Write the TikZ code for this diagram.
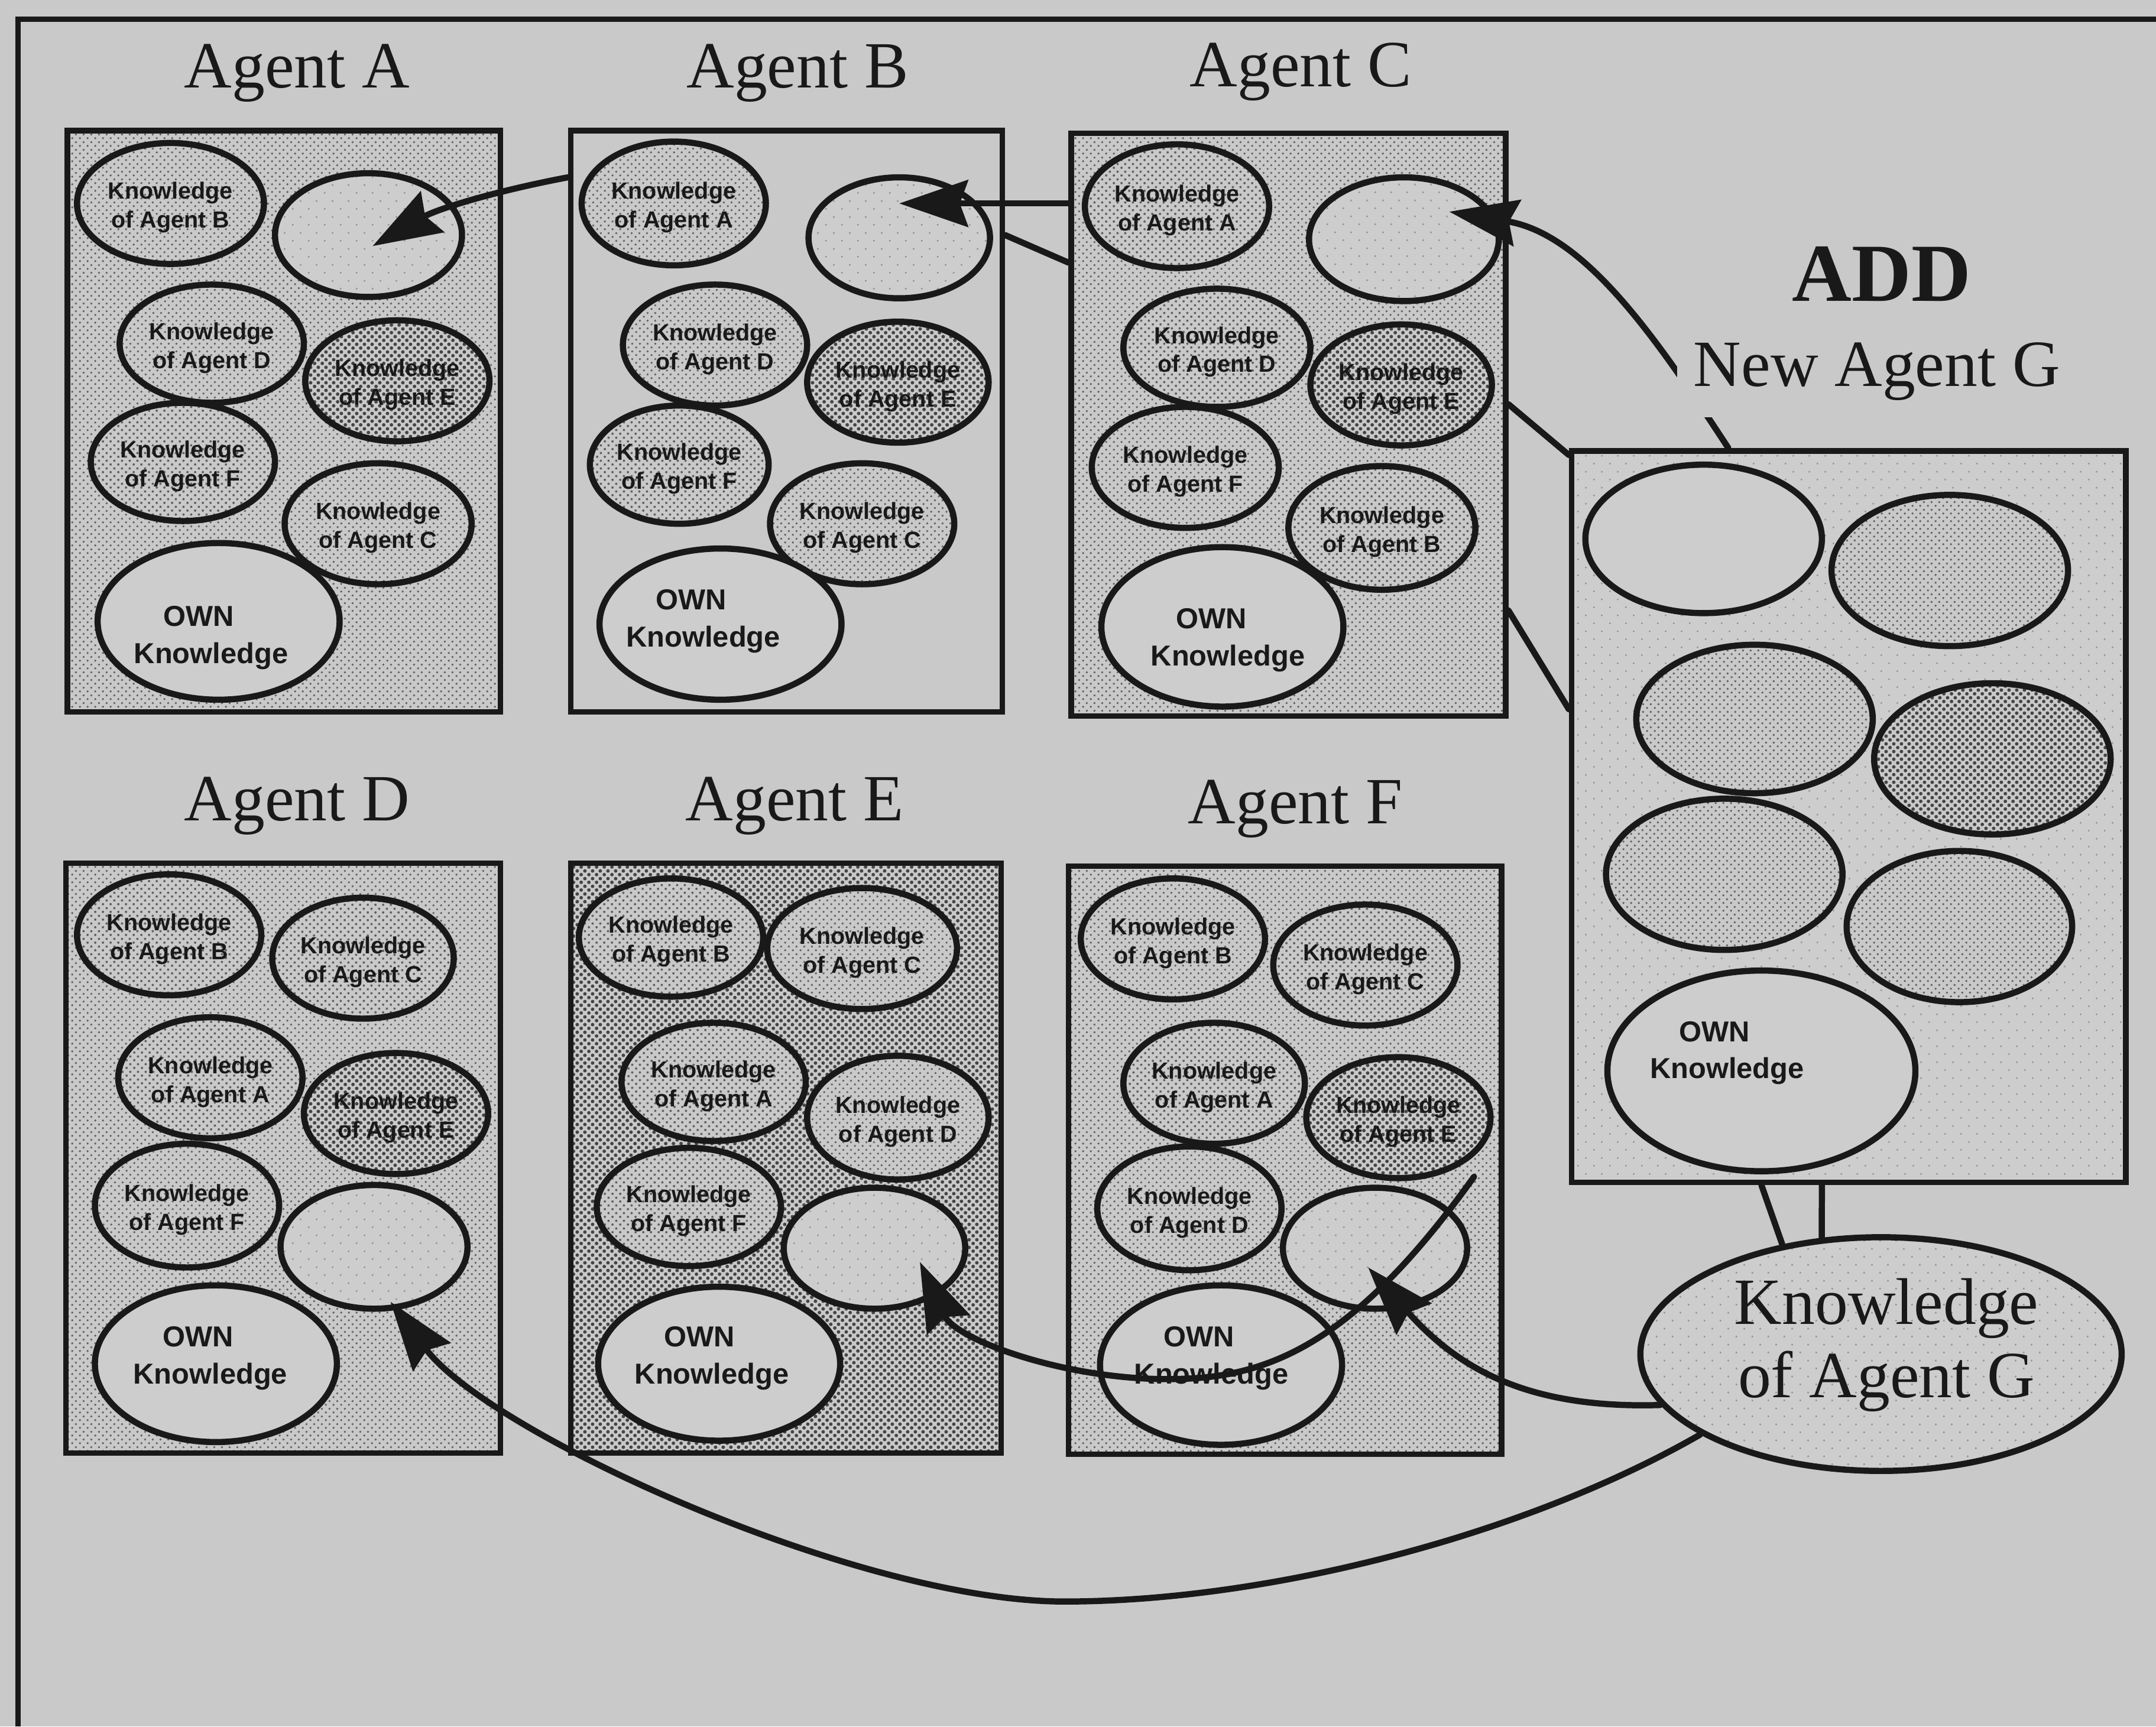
\documentclass[tikz,border=0pt]{standalone}
\usepackage{fontspec}
\setmainfont{Liberation Serif}
\newfontfamily\ksans{Liberation Sans}
\usetikzlibrary{shapes.geometric,arrows.meta,patterns,calc}

\definecolor{paper}{gray}{0.79}
\definecolor{lite}{gray}{0.805}
\definecolor{ink}{gray}{0.1}
\definecolor{dotmed}{gray}{0.38}
\definecolor{dotdark}{gray}{0.27}
\definecolor{dotfaint}{gray}{0.58}

% halftone-like dot screens
\pgfdeclarepatternformonly{meddots}{\pgfqpoint{0pt}{0pt}}{\pgfqpoint{5.7pt}{5.7pt}}{\pgfqpoint{5.7pt}{5.7pt}}{%
  \pgfpathcircle{\pgfqpoint{1.425pt}{1.425pt}}{0.9pt}%
  \pgfpathcircle{\pgfqpoint{4.275pt}{4.275pt}}{0.9pt}%
  \pgfusepath{fill}}
\pgfdeclarepatternformonly{darkdots}{\pgfqpoint{0pt}{0pt}}{\pgfqpoint{5.7pt}{5.7pt}}{\pgfqpoint{5.7pt}{5.7pt}}{%
  \pgfpathcircle{\pgfqpoint{1.425pt}{1.425pt}}{1.35pt}%
  \pgfpathcircle{\pgfqpoint{4.275pt}{4.275pt}}{1.35pt}%
  \pgfusepath{fill}}
\pgfdeclarepatternformonly{sparsedots}{\pgfqpoint{0pt}{0pt}}{\pgfqpoint{11.4pt}{11.4pt}}{\pgfqpoint{11.4pt}{11.4pt}}{%
  \pgfpathcircle{\pgfqpoint{2pt}{3pt}}{0.75pt}%
  \pgfpathcircle{\pgfqpoint{8pt}{9pt}}{0.75pt}%
  \pgfusepath{fill}}

% knowledge ellipse: name, x, y, width, height, fill style, text
\newcommand\kel[7]{%
  \node[kbase,#6,minimum width=#4pt,minimum height=#5pt,label={[ktext]center:{#7}}] (#1) at (#2,#3) {};}

\begin{document}
\begin{tikzpicture}[x=1pt,y=-1pt,
  medfill/.style={preaction={fill=paper}, pattern=meddots, pattern color=dotmed},
  darkfill/.style={preaction={fill=paper}, pattern=darkdots, pattern color=dotdark},
  faintfill/.style={preaction={fill=lite}, pattern=sparsedots, pattern color=dotfaint},
  plainfill/.style={fill=lite},
  agentbox/.style={draw=ink, line width=4pt, inner sep=0, rectangle},
  kbase/.style={ellipse, draw=ink, line width=4.5pt, inner sep=0},
  ktext/.style={font=\ksans\bfseries\fontsize{17}{21}\selectfont, align=center, inner sep=0, text=ink, yshift=-3pt},
  otext/.style={font=\ksans\bfseries\fontsize{21}{27}\selectfont, align=center, inner sep=0, text=ink},
  title/.style={font=\fontsize{48}{54}\selectfont, text=ink, inner sep=0, anchor=base},
  conn/.style={draw=ink, line width=4.5pt, line cap=round},
  arr/.style={conn, -{Stealth[length=50pt,width=34pt,inset=6pt]}}
]
\fill[paper] (0,0) rectangle (1568,1256);
\useasboundingbox (0,0) rectangle (1568,1256);

% page frame
\draw[ink, line width=4pt] (13,1256) -- (13,14) -- (1568,14);

% titles
\node[title] (tA) at (216,64) {Agent A};
\node[title] (tB) at (580,64) {Agent B};
\node[title] (tC) at (946,63) {Agent C};
\node[title] (tD) at (216,597) {Agent D};
\node[title] (tE) at (578,597) {Agent E};
\node[title] (tF) at (942,599) {Agent F};
\node[title, font=\bfseries\fontsize{60}{66}\selectfont] (tAdd) at (1368.5,219) {ADD};

% agent boxes
\node[agentbox, medfill, minimum width=315pt, minimum height=423pt] (boxA) at (206.5,306.5) {};
\node[agentbox, fill=paper, minimum width=314pt, minimum height=423pt] (boxB) at (572,306.5) {};
\node[agentbox, medfill, minimum width=316pt, minimum height=424pt] (boxC) at (937,309) {};
\node[agentbox, medfill, minimum width=316pt, minimum height=429pt] (boxD) at (206,842.5) {};
\node[agentbox, darkfill, minimum width=313pt, minimum height=429pt] (boxE) at (571.5,842.5) {};
\node[agentbox, medfill, minimum width=315pt, minimum height=428pt] (boxF) at (934.5,844) {};
\node[agentbox, faintfill, minimum width=403pt, minimum height=532pt] (boxG) at (1344.5,594) {};

% Agent A
\kel{aB}{124}{148}{136}{88}{medfill}{Knowledge\\of Agent B}
\kel{aX}{268}{171}{136}{90}{faintfill}{}
\kel{aD}{154}{250}{134}{86}{medfill}{Knowledge\\of Agent D}
\kel{aE}{289}{277}{134}{88}{darkfill}{Knowledge\\of Agent E}
\kel{aF}{133}{336}{134}{86}{medfill}{Knowledge\\of Agent F}
\kel{aC}{275}{381}{136}{88}{medfill}{Knowledge\\of Agent C}
\kel{aO}{159}{452}{176}{114}{plainfill}{}
\node[otext] (aOt) at (153.5,464) {OWN\hspace*{18pt}\\Knowledge};

% Agent B
\kel{bA}{490}{148}{134}{90}{medfill}{Knowledge\\of Agent A}
\kel{bX}{654}{173}{132}{88}{faintfill}{}
\kel{bD}{520}{251}{134}{88}{medfill}{Knowledge\\of Agent D}
\kel{bE}{653}{278}{132}{88}{darkfill}{Knowledge\\of Agent E}
\kel{bF}{494}{338}{130}{86}{medfill}{Knowledge\\of Agent F}
\kel{bC}{627}{381}{134}{88}{medfill}{Knowledge\\of Agent C}
\kel{bO}{524}{454}{176}{110}{plainfill}{}
\node[otext] (bOt) at (511.5,452) {OWN\hspace*{18pt}\\Knowledge};

% Agent C
\kel{cA}{856}{150}{134}{90}{medfill}{Knowledge\\of Agent A}
\kel{cX}{1021}{174}{138}{90}{faintfill}{}
\kel{cD}{885}{253}{136}{86}{medfill}{Knowledge\\of Agent D}
\kel{cE}{1019}{280}{132}{88}{darkfill}{Knowledge\\of Agent E}
\kel{cF}{862}{340}{136}{88}{medfill}{Knowledge\\of Agent F}
\kel{cB}{1005}{384}{136}{90}{medfill}{Knowledge\\of Agent B}
\kel{cO}{889}{456}{176}{116}{plainfill}{}
\node[otext] (cOt) at (893,465.7) {OWN\hspace*{24pt}\\Knowledge};

% Agent D
\kel{dB}{123}{680}{134}{88}{medfill}{Knowledge\\of Agent B}
\kel{dC}{264}{697}{132}{88}{medfill}{Knowledge\\of Agent C}
\kel{dA}{153}{784}{134}{88}{medfill}{Knowledge\\of Agent A}
\kel{dE}{288}{810}{134}{88}{darkfill}{Knowledge\\of Agent E}
\kel{dF}{136}{877}{134}{90}{medfill}{Knowledge\\of Agent F}
\kel{dX}{272}{907}{136}{90}{faintfill}{}
\kel{dO}{157}{992}{176}{114}{plainfill}{}
\node[otext] (dOt) at (153,988) {OWN\hspace*{18pt}\\Knowledge};

% Agent E
\kel{eB}{488}{682}{134}{86}{medfill}{Knowledge\\of Agent B}
\kel{eC}{627}{690}{138}{88}{medfill}{Knowledge\\of Agent C}
\kel{eA}{519}{787}{134}{86}{medfill}{Knowledge\\of Agent A}
\kel{eD}{653}{813}{132}{90}{medfill}{Knowledge\\of Agent D}
\kel{eF}{501}{878}{134}{86}{medfill}{Knowledge\\of Agent F}
\kel{eX}{636}{908}{132}{88}{faintfill}{}
\kel{eO}{523}{992}{176}{112}{plainfill}{}
\node[otext] (eOt) at (517.7,988) {OWN\hspace*{18pt}\\Knowledge};

% Agent F
\kel{fB}{853}{683}{134}{88}{medfill}{Knowledge\\of Agent B}
\kel{fC}{993}{702}{134}{88}{medfill}{Knowledge\\of Agent C}
\kel{fA}{883}{788}{132}{88}{medfill}{Knowledge\\of Agent A}
\kel{fE}{1017}{813}{134}{88}{darkfill}{Knowledge\\of Agent E}
\kel{fD}{865}{879}{134}{90}{medfill}{Knowledge\\of Agent D}
\kel{fX}{1000}{908}{134}{88}{faintfill}{}
\kel{fO}{888}{993}{176}{116}{plainfill}{}
\node[otext] (fOt) at (881,988) {OWN\hspace*{18pt}\\Knowledge};

% new Agent G
\kel{g1}{1239}{392}{172}{108}{plainfill}{}
\kel{g2}{1418}{415}{172}{110}{medfill}{}
\kel{g3}{1276}{523}{172}{108}{medfill}{}
\kel{g4}{1449}{552}{172}{110}{darkfill}{}
\kel{g5}{1254}{636}{172}{110}{medfill}{}
\kel{g6}{1425}{674}{164}{110}{medfill}{}
\kel{gO}{1281}{779}{224}{146}{plainfill}{}
\node[otext] (gOt) at (1256,766) {OWN\hspace*{18pt}\\Knowledge};

\kel{kG}{1368}{985}{350}{170}{faintfill}{}
\node[font=\fontsize{48}{53}\selectfont, align=center, inner sep=0, text=ink] (kGt) at (1372,978.5) {Knowledge\\of Agent G};

% links between the boxes
\draw[conn] ($(boxB.north east)+(0,78)$) -- ($(boxC.north west)+(0,96)$);
\draw[conn] ($(boxC.north east)+(0,199)$) -- ($(boxG.north west)+(0,5)$);
\draw[conn] ($(boxC.north east)+(0,349)$) -- ($(boxG.north west)+(0,190)$);
\draw[conn] ($(boxG.south west)+(140,0)$) -- (kG.132);
\draw[conn] ($(boxG.south west)+(184,0)$) -- (kG.117);

% knowledge being passed on
\draw[arr] ($(boxB.north west)+(0,36)$) .. controls (360,139) and (318,152) .. ($(aX.center)+(3,8)$);
\draw[arr] ($(boxC.north west)+(0,53)$) -- ($(bX.center)+(0,-25)$);
\draw[arr] ($(boxG.north west)+(116,0)$) .. controls (1204,245) and (1152.6,170.4) .. ($(cX.center)+(33,-20)$);
\draw[arr] (kG.193) .. controls (1110,1025) and (1060,995) .. ($(fX.center)+(-5,14)$);
\coordinate (lowturn) at (774,1165);
\draw[arr] (kG.204) .. controls (1110.5,1116) and (924,1165) .. (lowturn)
  .. controls (624,1165) and (356,1043) .. ($(dX.center)+(12,40)$);
\coordinate (fstart) at ($(fE.center)+(55,43)$);
\coordinate (fturn) at (860,1003);
\draw[arr] (fstart) .. controls (990.8,969.4) and (930,1001) .. (fturn)
  .. controls (780,1006) and (695,975) .. ($(eX.center)+(33,10)$);

% label sits over the incoming curve
\node[title, fill=paper, inner sep=12pt] (tNew) at (1365,281) {New Agent G};
\end{tikzpicture}
\end{document}
